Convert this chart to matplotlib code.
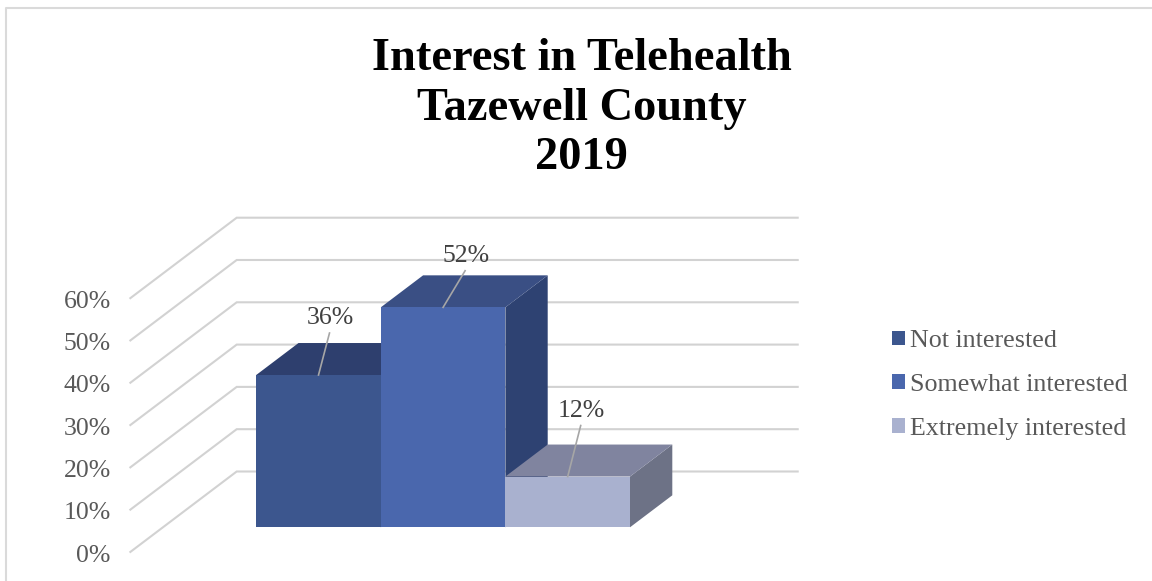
import matplotlib
matplotlib.use("Agg")
import matplotlib.pyplot as plt
from matplotlib.patches import Polygon, Patch

# ---- data ----
categories = ["Not interested", "Somewhat interested", "Extremely interested"]
values = [36, 52, 12]
value_labels = ["36%", "52%", "12%"]
y_ticks = [0, 10, 20, 30, 40, 50, 60]
y_tick_labels = ["0%", "10%", "20%", "30%", "40%", "50%", "60%"]
title_lines = ["Interest in Telehealth", "Tazewell County", "2019"]

# ---- style ----
front_colors = ["#3C568E", "#4A67AD", "#A9B1CF"]
top_colors = ["#2E3F6E", "#3A4F84", "#80849F"]
side_colors = ["#2B3C68", "#2E4272", "#6D7286"]
label_leader = [(11, 42), (22, 36.6), (13, 51)]   # px offset of leader end
label_text = [(11.5, 51), (22.5, 45.6), (13.7, 60)]  # px offset of text baseline
title_baselines = [70, 120, 169]

W, H = 1152, 581
PX_CAT = 124.6
PX_VAL = 4.23
X0, Y0 = 318.5, 527.3
DX, DY = 42.3 / PX_CAT, 32.0 / PX_VAL   # bar depth in data units
WALL_D, FRONT_D = 1.744, -0.77
GRID_END = (797.7 - X0) / PX_CAT
WALL_LEFT = (236.7 - X0) / PX_CAT
SERIF = ["Liberation Serif", "DejaVu Serif"]

fig = plt.figure(figsize=(W / 100, H / 100), dpi=100, facecolor="white")
ax = fig.add_axes([0, 0, 1, 1])
ax.set_xlim(-X0 / PX_CAT, (W - X0) / PX_CAT)
ax.set_ylim(-(H - Y0) / PX_VAL, Y0 / PX_VAL)
ax.axis("off")

# outer frame (top and left only are visible)
fig.add_artist(plt.Line2D([6 / W, 6 / W, 1], [0, 1 - 8 / H, 1 - 8 / H],
                          color="#DADADA", lw=1.5, transform=fig.transFigure))

# gridlines: sloped side wall + back wall
for t, lab in zip(y_ticks, y_tick_labels):
    wall_y = t + WALL_D * DY
    front_x = WALL_LEFT + (FRONT_D - WALL_D) * DX
    front_y = t + FRONT_D * DY
    ax.plot([front_x, WALL_LEFT, GRID_END], [front_y, wall_y, wall_y],
            color="#D2D2D2", lw=1.5, zorder=1, solid_joinstyle="miter")
    ax.text(front_x - 19.5 / PX_CAT, front_y - 9.7 / PX_VAL, lab, ha="right", va="baseline",
            fontsize=18.5, color="#595959", family=SERIF, zorder=5)

# 3-D bars
for i, (v, fc, tc, sc) in enumerate(zip(values, front_colors, top_colors, side_colors)):
    l, r = i - 0.5, i + 0.5
    ax.add_patch(Polygon([(r, 0), (r + DX, DY), (r + DX, v + DY), (r, v)],
                         fc=sc, ec="none", zorder=2 + i))
    ax.add_patch(Polygon([(l, v), (l + DX, v + DY), (r + DX, v + DY), (r, v)],
                         fc=tc, ec="none", zorder=2 + i))
    ax.bar(i, v, width=1.0, color=fc, zorder=2 + i)

# data labels with leader lines
for i, v in enumerate(values):
    lx, ly = label_leader[i]
    tx, ty = label_text[i]
    ax.plot([i, i + lx / PX_CAT], [v, v + ly / PX_VAL], color="#A6A6A6", lw=1.2, zorder=6)
    ax.text(i + tx / PX_CAT, v + ty / PX_VAL, value_labels[i], ha="center", va="baseline",
            fontsize=18.5, color="#404040", family=SERIF, zorder=7)

# legend
handles = [Patch(fc=c, ec="none") for c in front_colors]
fig.legend(handles, categories, loc="center left",
           bbox_to_anchor=(892 / W, 1 - 385 / H), frameon=False,
           prop={"family": SERIF, "size": 18.7}, labelcolor="#595959",
           handlelength=0.5, handleheight=0.5, handletextpad=0.2,
           labelspacing=0.84, borderpad=0, borderaxespad=0)

# title
for line, base in zip(title_lines, title_baselines):
    fig.text(581.5 / W, 1 - base / H, line, ha="center", va="baseline",
             fontsize=33.4, fontweight="bold", color="black", family=SERIF)

fig.savefig("out.png", dpi=100, facecolor="white")
